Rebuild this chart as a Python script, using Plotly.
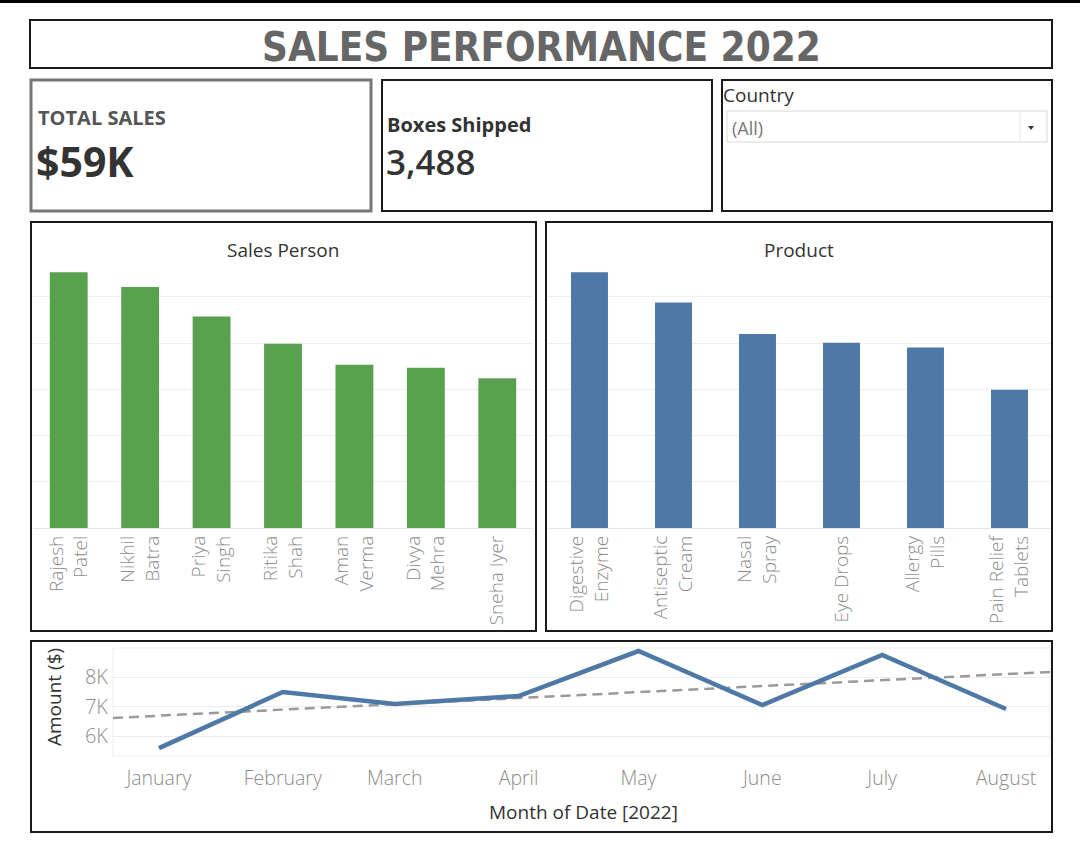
import plotly.graph_objects as go
import numpy as np
import pandas as pd

W, H = 1080, 849

# ---------------- data ----------------
title_text = "SALES PERFORMANCE 2022"
kpi_sales_label = "TOTAL SALES"
kpi_sales_value = "$59K"
kpi_boxes_label = "Boxes Shipped"
kpi_boxes_value = "3,488"
filter_label = "Country"
filter_value = "(All)"

sales_persons = ["Rajesh<br>Patel", "Nikhil<br>Batra", "Priya<br>Singh", "Ritika<br>Shah",
                 "Aman<br>Verma", "Divya<br>Mehra", "Sneha Iyer"]
sales_person_amounts = [11070, 10430, 9160, 7980, 7070, 6940, 6480]

products = ["Digestive<br>Enzyme", "Antiseptic<br>Cream", "Nasal<br>Spray", "Eye Drops",
            "Allergy<br>Pills", "Pain Relief<br>Tablets"]
product_amounts = [11070, 9760, 8400, 8020, 7810, 5990]

months = ["2022-01-01", "2022-02-01", "2022-03-01", "2022-04-01",
          "2022-05-01", "2022-06-01", "2022-07-01", "2022-08-01"]
month_labels = ["January", "February", "March", "April", "May", "June", "July", "August"]
monthly_amounts = [5590, 7490, 7085, 7356, 8880, 7050, 8750, 6915]

amount_ticks = [6000, 7000, 8000]
amount_tick_labels = ["6K", "7K", "8K"]

# ---------------- helpers ----------------
def px(x):
    return x / W

def py(y):
    return 1 - y / H

FONT = "Open Sans"
GREEN = "#59a14f"
BLUE = "#4e79a7"
TICK_GRAY = "#8c8c8c"

fig = go.Figure()

# Sales person bars
fig.add_trace(go.Bar(x=sales_persons, y=sales_person_amounts, marker_color=GREEN,
                     marker_line_width=0, xaxis="x", yaxis="y", showlegend=False))
# Product bars
fig.add_trace(go.Bar(x=products, y=product_amounts, marker_color=BLUE, width=0.44,
                     marker_line_width=0, xaxis="x2", yaxis="y2", showlegend=False))

# Monthly line + trend
dates = pd.to_datetime(months)
days = np.array([(d - dates[0]).days for d in dates], dtype=float)
coef = np.polyfit(days, np.array(monthly_amounts, dtype=float), 1)
x_start = dates[0] - pd.Timedelta(hours=11.5 * 24)
x_end = dates[0] + pd.Timedelta(days=223)
t_days = np.array([-11.5, 223.0])
fig.add_trace(go.Scatter(x=[x_start, x_end], y=np.polyval(coef, t_days), mode="lines",
                         line=dict(color="#9a9a9a", width=2.5, dash="10px,6px"),
                         xaxis="x3", yaxis="y3", showlegend=False, hoverinfo="skip"))
fig.add_trace(go.Scatter(x=dates, y=monthly_amounts, mode="lines",
                         line=dict(color=BLUE, width=4.5),
                         xaxis="x3", yaxis="y3", showlegend=False))

bar_tick_font = dict(family=FONT, size=19, color=TICK_GRAY, weight=300)
y_top_val = 11385

layout = dict(
    width=W, height=H, margin=dict(l=0, r=0, t=0, b=0),
    paper_bgcolor="white", plot_bgcolor="white",
    bargap=0.47,
    xaxis=dict(domain=[px(33), px(533)], tickangle=-90, tickfont=bar_tick_font,
               showgrid=False, showline=False, ticks="", ticklabelstandoff=3),
    yaxis=dict(domain=[py(528), py(265)], range=[0, y_top_val], dtick=2000,
               showticklabels=False, gridcolor="#f0f0f0", zeroline=True,
               zerolinecolor="#e6e6e6", zerolinewidth=1),
    xaxis2=dict(domain=[px(547.5), px(1051.5)], tickangle=-90, tickfont=bar_tick_font,
                showgrid=False, showline=False, ticks="", ticklabelstandoff=3),
    yaxis2=dict(domain=[py(528), py(265)], range=[0, y_top_val], dtick=2000,
                showticklabels=False, gridcolor="#f0f0f0", zeroline=True,
                zerolinecolor="#e6e6e6", zerolinewidth=1, anchor="x2"),
    xaxis3=dict(domain=[px(113), px(1050)], type="date", range=[x_start, x_end],
                tickvals=dates, ticktext=month_labels, showgrid=False, ticks="",
                tickfont=dict(family=FONT, size=19.5, color=TICK_GRAY, weight=300),
                ticklabelstandoff=8, anchor="y3", showline=False, zeroline=False),
    yaxis3=dict(domain=[py(756), py(648)], range=[5322, 8983], tickvals=amount_ticks,
                ticktext=amount_tick_labels, gridcolor="#ececec", ticks="",
                tickfont=dict(family=FONT, size=20, color=TICK_GRAY, weight=300),
                ticklabelstandoff=4, anchor="x3", zeroline=False),
)
fig.update_layout(**layout)

shapes = []
def rect(x0, y0, x1, y1, color="#1a1a1a", width=2, fill=None, layer="above"):
    shapes.append(dict(type="rect", xref="paper", yref="paper",
                       x0=px(x0), x1=px(x1), y0=py(y1), y1=py(y0),
                       line=dict(color=color, width=width),
                       fillcolor=fill if fill else "rgba(0,0,0,0)", layer=layer))

# top black band
shapes.append(dict(type="rect", xref="paper", yref="paper", x0=0, x1=1, y0=py(3), y1=1,
                   line=dict(width=0), fillcolor="black"))
rect(30, 20, 1052, 68)
rect(31, 80, 371, 211, color="#777777", width=3)
rect(382, 80, 712, 211)
rect(722, 80, 1052, 211)
rect(31, 222, 536, 631)
rect(546, 222, 1052, 631)
rect(31, 641, 1052, 832)
# line plot faint frame
rect(113, 648, 1050, 756, color="#eeeeee", width=1, layer="below")
# dropdown
rect(727, 111, 1047, 142, color="#d9d9d9", width=1)
shapes.append(dict(type="line", xref="paper", yref="paper", x0=px(1020), x1=px(1020),
                   y0=py(141), y1=py(112), line=dict(color="#e6e6e6", width=1)))
shapes.append(dict(type="path", xref="paper", yref="paper",
                   path=f"M {px(1028)},{py(126)} L {px(1034)},{py(126)} L {px(1031)},{py(130)} Z",
                   fillcolor="#333333", line=dict(width=0)))
fig.update_layout(shapes=shapes)

ann = []
def text(x, y, s, size, color="#333333", weight=400, xanchor="left", family=FONT, angle=0):
    ann.append(dict(x=px(x), y=py(y), xref="paper", yref="paper", text=s, showarrow=False,
                    xanchor=xanchor, yanchor="middle", textangle=angle,
                    font=dict(family=family, size=size, color=color, weight=weight)))

text(541, 47, title_text, 40, color="#666666", weight=700, xanchor="center",
     family="Liberation Sans Narrow, DejaVu Sans Condensed, Roboto Condensed, Roboto")
text(36, 118, kpi_sales_label, 20, color="#555555", weight=700)
text(34, 161, kpi_sales_value, 41, color="#333333", weight=700)
text(385, 124, kpi_boxes_label, 20, color="#333333", weight=700)
text(384, 161, kpi_boxes_value, 35, color="#333333", weight=600)
text(721, 95, filter_label, 19, color="#333333")
text(730, 128, filter_value, 18, color="#777777")
text(283, 250, "Sales Person", 19, xanchor="center")
text(799, 250, "Product", 19, xanchor="center")
text(54, 697, "Amount ($)", 19, xanchor="center", angle=-90)
text(583, 812, "Month of Date [2022]", 19, xanchor="center")
fig.update_layout(annotations=ann)

fig.write_html("out.html")
